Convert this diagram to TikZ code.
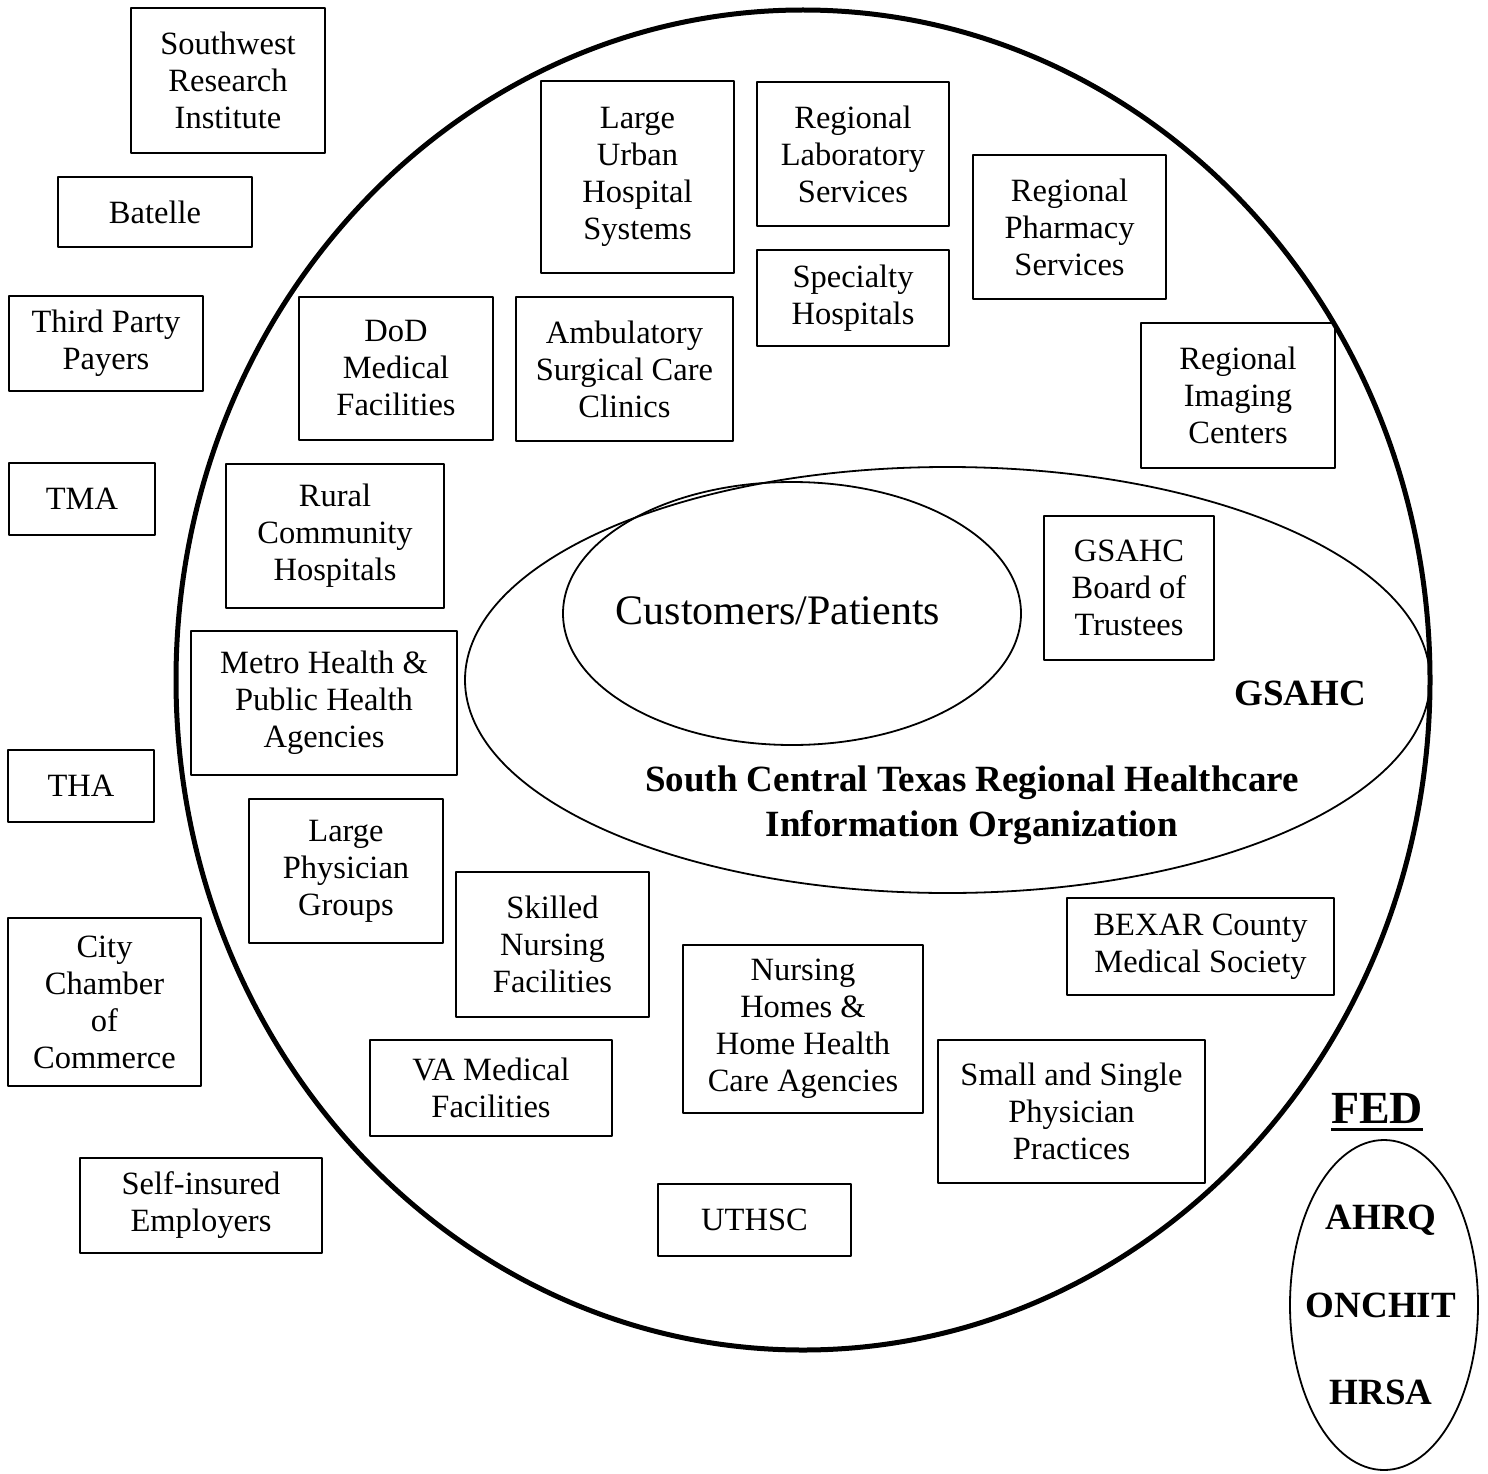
\documentclass[tikz,border=0pt]{standalone}
\usepackage{fontspec}
\setmainfont{Liberation Serif}
\begin{document}
\begin{tikzpicture}[x=1pt,y=-1pt, line join=round, line cap=round,
  box/.style={draw, line width=1.8pt, align=center, inner sep=0pt, font=\fontsize{32.5}{37}\selectfont},
  heavy/.style={font=\bfseries\fontsize{37}{45}\selectfont, align=center, inner sep=0pt}]
\useasboundingbox (0,0) rectangle (1488,1474);
% outer region and the two inner ovals
\draw[line width=5pt] (803,680) ellipse [x radius=627, y radius=670];
\draw[line width=1.8pt] (947.5,680) ellipse [x radius=482.5, y radius=213];
\draw[line width=1.8pt] (792,613.5) ellipse [x radius=229, y radius=131.5];
\draw[line width=1.8pt] (1384,1305) ellipse [x radius=94, y radius=165];
% partners: name/x/y/width/height/text
\foreach \n/\x/\y/\w/\h/\t in {
  swri/228/80.5/194/145/{Southwest\\Research\\Institute},
  batelle/155/212/194/70/{Batelle},
  payers/106/343.5/194/95/{Third Party\\Payers},
  tma/82/499/146/72/{TMA},
  tha/81/786/146/72/{THA},
  chamber/104.5/1002/193/168/{City\\Chamber\\of\\Commerce},
  employers/201/1205.5/242/95/{Self-insured\\Employers},
  urban/637.5/177/193/192/{Large\\Urban\\Hospital\\Systems},
  lab/853/154/192/144/{Regional\\Laboratory\\Services},
  specialty/853/298/192/96/{Specialty\\Hospitals},
  pharmacy/1069.5/227/193/144/{Regional\\Pharmacy\\Services},
  imaging/1238/395.5/194/145/{Regional\\Imaging\\Centers},
  dod/396/368.5/194/143/{DoD\\Medical\\Facilities},
  ambulatory/624.5/369/217/144/{Ambulatory\\Surgical Care\\Clinics},
  rural/335/536/218/144/{Rural\\Community\\Hospitals},
  trustees/1129/588/170/144/{GSAHC\\Board of\\Trustees},
  metro/324/703/266/144/{Metro Health \&\\Public Health\\Agencies},
  groups/346/871/194/144/{Large\\Physician\\Groups},
  skilled/552.5/944.5/193/145/{Skilled\\Nursing\\Facilities},
  homes/803/1029/240/168/{Nursing\\Homes \&\\Home Health\\Care Agencies},
  bexar/1200.5/946.5/267/97/{BEXAR County\\Medical Society},
  practices/1071.5/1111.5/267/143/{Small and Single\\Physician\\Practices},
  va/491/1088/242/96/{VA Medical\\Facilities},
  uthsc/754.5/1220/193/72/{UTHSC}}
  \node[box, minimum width=\w pt, minimum height=\h pt] (\n) at (\x,\y) {\t};
% labels
\node[font=\fontsize{42}{48}\selectfont, inner sep=0pt] (patients) at (778,611) {Customers/Patients};
\node[heavy] (gsahc) at (1300,693) {GSAHC};
\node[heavy] (rhio) at (972,805.5) {South Central Texas Regional Healthcare\\Information Organization};
\node[font=\bfseries\fontsize{46}{52}\selectfont, inner sep=0pt] (fed) at (1377,1108) {FED};
\draw[line width=3pt, line cap=butt] ([yshift=-6pt]fed.base west) -- ([yshift=-6pt]fed.base east);
\foreach \n/\y/\t in {ahrq/1220/AHRQ, onchit/1305/ONCHIT, hrsa/1392/HRSA}
  \node[heavy] (\n) at (1381,\y) {\t};
\end{tikzpicture}
\end{document}
